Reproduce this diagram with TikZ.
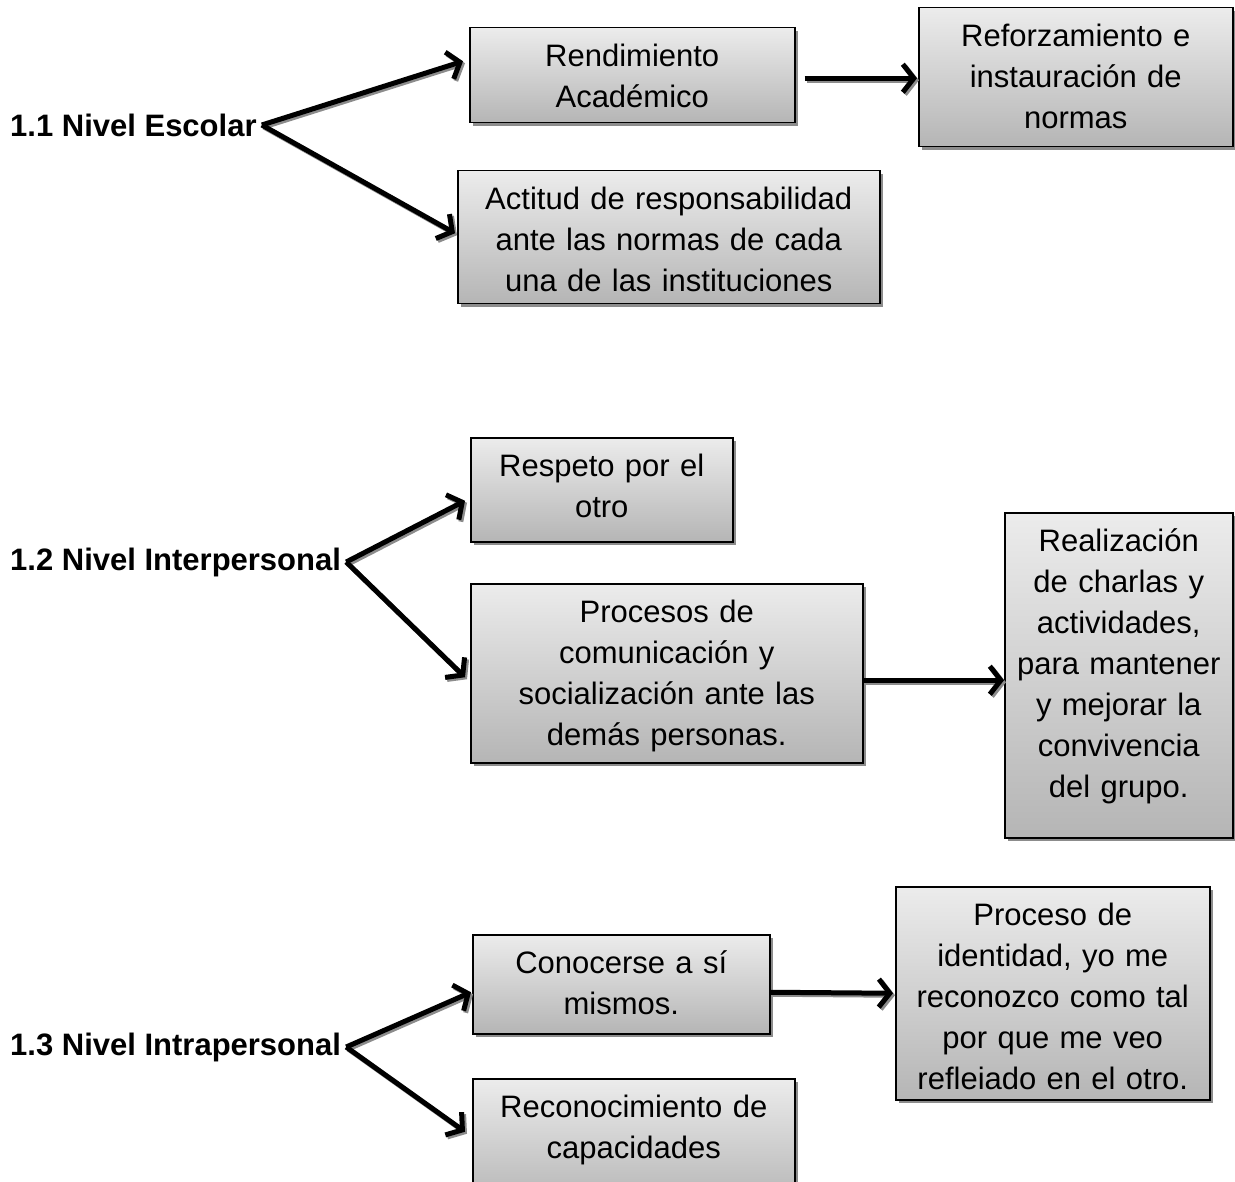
\documentclass[tikz,border=0pt]{standalone}
\usepackage{fontspec}
\setmainfont{Liberation Sans}
\usetikzlibrary{arrows.meta, shadows}
\definecolor{sombra}{RGB}{140,140,140}
\tikzstyle{caja} = [rectangle, anchor=north west, draw=black, line width=1.5pt, top color=gray!15, bottom color=gray!58, drop shadow={shadow xshift=3pt, shadow yshift=-3pt, fill=sombra, opacity=1}, inner xsep=2pt, inner ysep=17pt, text height=22pt, align=center, font=\fontsize{31}{41}\selectfont]
\tikzstyle{nivel} = [anchor=west, inner sep=5pt, font=\fontsize{31}{41}\selectfont\bfseries]
\tikzstyle{flecha} = [line width=5pt, -{Straight Barb[length=11pt,width=28pt]}, preaction={draw=sombra, line width=5pt, transform canvas={shift={(2pt,-2pt)}}}]

\begin{document}
\begin{tikzpicture}[x=1pt, y=-1pt]
\useasboundingbox (0,0) rectangle (1235,1182);

\node (escolar) [nivel] at (5,125) {1.1 Nivel Escolar};
\node (rendimiento) [caja, text width=321pt, text depth=39pt] at (469,27) {Rendimiento\\Académico};
\node (reforzamiento) [caja, text width=310pt, text depth=83pt] at (918,7) {Reforzamiento e\\instauración de\\normas};
\node (actitud) [caja, text width=418pt, text depth=77pt] at (457,170) {Actitud de responsabilidad\\ante las normas de cada\\una de las instituciones};

\node (interpersonal) [nivel] at (5,562) {1.2 Nivel Interpersonal};
\node (respeto) [caja, text width=258pt, text depth=48pt] at (470,437) {Respeto por el\\otro};
\node (procesos) [caja, text width=388pt, text depth=123pt] at (470,583) {Procesos de\\comunicación y\\socialización ante las\\demás personas.};
\node (realizacion) [caja, text width=224pt, text depth=269pt] at (1004,512) {Realización\\de charlas y\\actividades,\\para mantener\\y mejorar la\\convivencia\\del grupo.};

\node (intrapersonal) [nivel] at (5,1047) {1.3 Nivel Intrapersonal};
\node (conocerse) [caja, text width=293pt, text depth=43pt] at (472,934) {Conocerse a sí\\mismos.};
\node (identidad) [caja, text width=310pt, text depth=157pt] at (895,886) {Proceso de\\identidad, yo me\\reconozco como tal\\por que me veo\\refleiado en el otro.};
\node (capacidades) [caja, text width=318pt, text depth=70pt] at (472,1078) {Reconocimiento de\\capacidades};

\draw [flecha] (escolar.east) -- ([xshift=-6pt,yshift=14pt]rendimiento.west);
\draw [flecha] (escolar.east) -- ([xshift=-2pt,yshift=4pt]actitud.west);
\draw [flecha] ([xshift=9pt,yshift=-3pt]rendimiento.east) -- ([xshift=-1pt,yshift=-1pt]reforzamiento.west);

\draw [flecha] (interpersonal.east) -- ([xshift=-5pt,yshift=-11pt]respeto.west);
\draw [flecha] (interpersonal.east) -- ([xshift=-5pt,yshift=-4pt]procesos.west);
\draw [flecha] ([yshift=-7pt]procesos.east) -- ([yshift=-5pt]realizacion.west);

\draw [flecha] (intrapersonal.east) -- ([xshift=-1pt,yshift=-8pt]conocerse.west);
\draw [flecha] (intrapersonal.east) -- ([xshift=-7pt,yshift=10pt]capacidades.west);
\draw [flecha] ([yshift=-8pt]conocerse.east) -- ([xshift=-2pt]identidad.west);

\end{tikzpicture}
\end{document}
